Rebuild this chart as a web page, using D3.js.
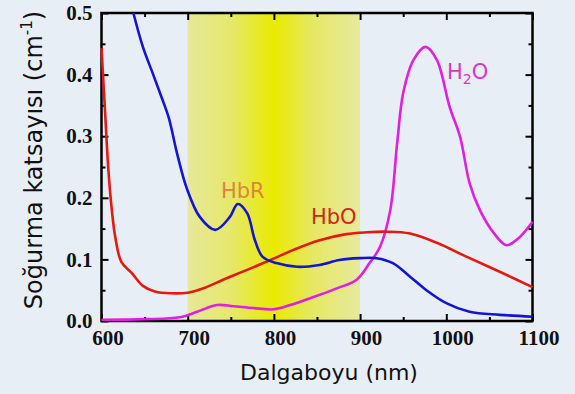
<!DOCTYPE html>
<html>
<head>
<meta charset="utf-8">
<script src="https://cdn.jsdelivr.net/npm/d3@7"></script>
<style>
  body { margin: 0; background: #e8eef6; }
  svg { display: block; }
  .tick text { font-family: "Liberation Serif", serif; font-weight: bold; font-size: 21px; fill: #111; }
  .lbl { font-family: "DejaVu Sans", sans-serif; }
</style>
</head>
<body>
<svg id="chart" width="575" height="394"></svg>
<script>
// wavelengths (nm) and absorption coefficients (cm^-1)
var hbrNm  = [637, 648, 660, 670, 678, 688, 699, 714, 732, 749, 758, 769, 778, 787, 803, 827, 853, 876, 900, 919, 938, 958, 977, 1000, 1027, 1062, 1100];
var hbrVal = [0.5, 0.445, 0.4, 0.362, 0.33, 0.27, 0.215, 0.169, 0.148, 0.169, 0.19, 0.175, 0.131, 0.104, 0.094, 0.088, 0.091, 0.099, 0.102, 0.102, 0.094, 0.072, 0.05, 0.029, 0.015, 0.01, 0.007];

var hboNm  = [600, 604, 608, 612, 616, 623, 635, 648, 662, 680, 700, 720, 741, 769, 796, 822, 853, 884, 908, 931, 958, 989, 1024, 1062, 1100];
var hboVal = [0.443, 0.343, 0.245, 0.18, 0.136, 0.096, 0.078, 0.057, 0.048, 0.045, 0.046, 0.054, 0.067, 0.083, 0.099, 0.115, 0.131, 0.141, 0.144, 0.145, 0.142, 0.127, 0.104, 0.08, 0.055];

var h2oNm  = [600, 650, 691, 711, 734, 753, 776, 800, 819, 846, 873, 896, 911, 923, 935, 943, 950, 962, 976, 989, 1004, 1016, 1027, 1039, 1055, 1070, 1085, 1100];
var h2oVal = [0.002, 0.003, 0.006, 0.015, 0.026, 0.024, 0.021, 0.019, 0.026, 0.039, 0.053, 0.067, 0.094, 0.12, 0.18, 0.289, 0.37, 0.424, 0.445, 0.424, 0.347, 0.299, 0.224, 0.18, 0.143, 0.123, 0.136, 0.161];

var xTicks = [600, 700, 800, 900, 1000, 1100];
var yTicks = [0.0, 0.1, 0.2, 0.3, 0.4, 0.5];
var bandNm = [700, 900];

var svg = d3.select("#chart");
var x = d3.scaleLinear().domain([600, 1100]).range([101.5, 532.5]);
var y = d3.scaleLinear().domain([0, 0.5]).range([321, 13]);

// yellow window gradient
var grad = svg.append("defs").append("linearGradient").attr("id", "band");
grad.append("stop").attr("offset", "0%").attr("stop-color", "#e6e898");
grad.append("stop").attr("offset", "25%").attr("stop-color", "#e6e86c");
grad.append("stop").attr("offset", "50%").attr("stop-color", "#e9ea00");
grad.append("stop").attr("offset", "72%").attr("stop-color", "#e6e862");
grad.append("stop").attr("offset", "100%").attr("stop-color", "#e7e99e");

svg.append("rect")
  .attr("x", x(bandNm[0])).attr("y", y(0.5))
  .attr("width", x(bandNm[1]) - x(bandNm[0]))
  .attr("height", y(0) - y(0.5))
  .attr("fill", "url(#band)");

var minorX = d3.range(600, 1101, 50);
var minorY = d3.range(0, 0.501, 0.05);
function isMajorY(d) { return yTicks.some(function(t) { return Math.abs(t - d) < 1e-6; }); }

function styleAxis(g) {
  g.select(".domain").remove();
  g.selectAll("line").attr("stroke", "#000").attr("stroke-width", 2);
}

// bottom axis with labels
svg.append("g").attr("transform", "translate(0," + y(0) + ")")
  .call(d3.axisBottom(x).tickValues(minorX).tickSize(-4).tickPadding(8)
    .tickFormat(function(d) { return xTicks.indexOf(d) >= 0 ? d : ""; }))
  .call(styleAxis)
  .call(function(g) {
    g.selectAll(".tick line").attr("y2", function(d) { return xTicks.indexOf(d) >= 0 ? -7 : -4; });
    g.selectAll(".tick text").attr("dy", "0.75em").attr("dx", 6);
  });

// top axis
svg.append("g").attr("transform", "translate(0," + y(0.5) + ")")
  .call(d3.axisTop(x).tickValues(minorX).tickSize(-4).tickFormat(""))
  .call(styleAxis)
  .call(function(g) {
    g.selectAll(".tick line").attr("y2", function(d) { return xTicks.indexOf(d) >= 0 ? 7 : 4; });
  });

// left axis with labels
svg.append("g").attr("transform", "translate(" + x(600) + ",0)")
  .call(d3.axisLeft(y).tickValues(minorY).tickSize(-4).tickPadding(9)
    .tickFormat(function(d) { return isMajorY(d) ? d3.format(".1f")(d) : ""; }))
  .call(styleAxis)
  .call(function(g) {
    g.selectAll(".tick line").attr("x2", function(d) { return isMajorY(d) ? 7 : 4; });
  });

// right axis
svg.append("g").attr("transform", "translate(" + x(1100) + ",0)")
  .call(d3.axisRight(y).tickValues(minorY).tickSize(-4).tickFormat(""))
  .call(styleAxis)
  .call(function(g) {
    g.selectAll(".tick line").attr("x2", function(d) { return isMajorY(d) ? -7 : -4; });
  });

// frame
svg.append("rect")
  .attr("x", x(600)).attr("y", y(0.5))
  .attr("width", x(1100) - x(600)).attr("height", y(0) - y(0.5))
  .attr("fill", "none").attr("stroke", "#000").attr("stroke-width", 2.5);

var line = d3.line()
  .x(function(d) { return x(d[0]); })
  .y(function(d) { return y(d[1]); })
  .curve(d3.curveCatmullRom.alpha(0.5));

function drawCurve(nm, vals, color) {
  svg.append("path")
    .datum(d3.zip(nm, vals))
    .attr("d", line)
    .attr("fill", "none")
    .attr("stroke", color)
    .attr("stroke-width", 2.6)
    .attr("stroke-linejoin", "round");
}

drawCurve(h2oNm, h2oVal, "#e020e0");
drawCurve(hboNm, hboVal, "#e41a10");
drawCurve(hbrNm, hbrVal, "#1414d2");

// series labels
svg.append("text").attr("class", "lbl")
  .attr("x", 221).attr("y", 198).attr("font-size", 21)
  .attr("fill", "#e0843a").text("HbR");
svg.append("text").attr("class", "lbl")
  .attr("x", 311).attr("y", 224).attr("font-size", 21)
  .attr("fill", "#d42418").text("HbO");
var h2o = svg.append("text").attr("class", "lbl")
  .attr("x", 447).attr("y", 79).attr("font-size", 21)
  .attr("fill", "#d838c8");
h2o.append("tspan").text("H");
h2o.append("tspan").attr("font-size", 14).attr("dy", 5).text("2");
h2o.append("tspan").attr("dy", -5).text("O");

// axis titles
svg.append("text").attr("class", "lbl")
  .attr("x", 329).attr("y", 380).attr("text-anchor", "middle")
  .attr("font-size", 22).attr("fill", "#111")
  .text("Dalgaboyu (nm)");

var yt = svg.append("text").attr("class", "lbl")
  .attr("transform", "translate(42,160) rotate(-90)")
  .attr("text-anchor", "middle")
  .attr("font-size", 24).attr("fill", "#111");
yt.append("tspan").text("Soğurma katsayısı (cm");
yt.append("tspan").attr("font-size", 15).attr("dy", -10).text("-1");
yt.append("tspan").attr("dy", 10).text(")");
</script>
</body>
</html>
